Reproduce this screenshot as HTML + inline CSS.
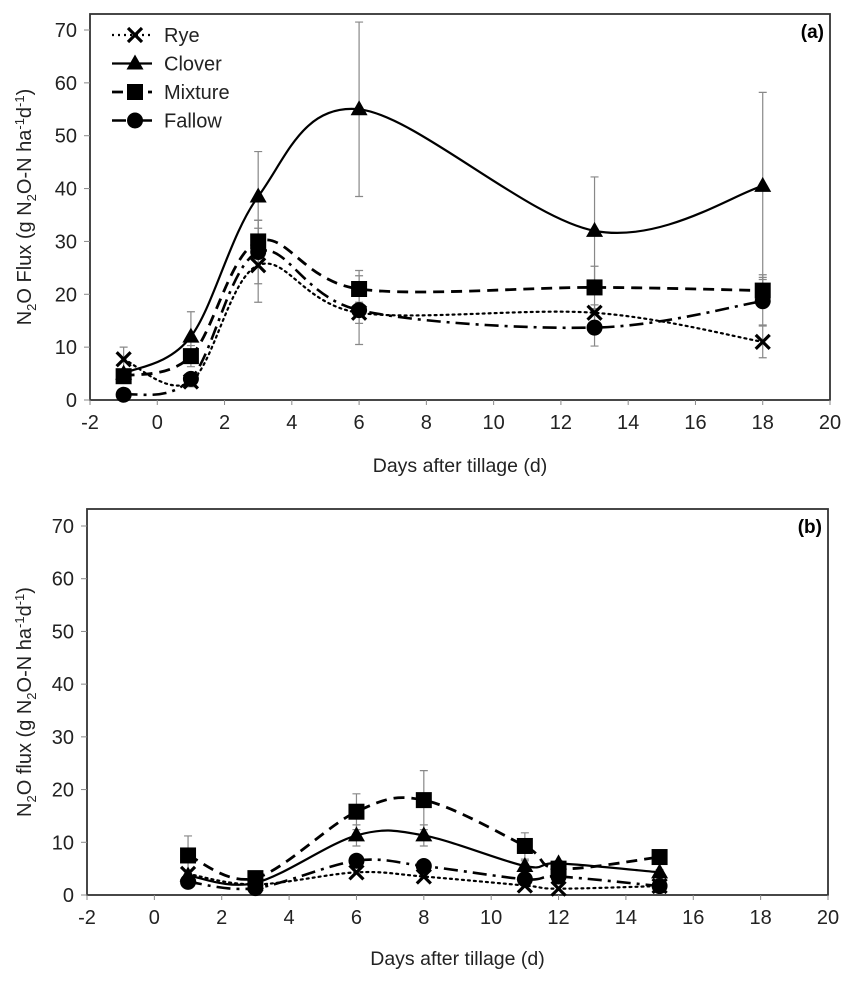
<!DOCTYPE html>
<html><head><meta charset="utf-8"><style>
html,body{margin:0;padding:0;background:#fff;}
svg{display:block;font-family:"Liberation Sans",Arial,sans-serif;}
</style></head><body>
<svg id="chart" width="855" height="983" viewBox="0 0 855 983"></svg>
<script>
const seriesNames = ["Rye","Clover","Mixture","Fallow"];
const daysA = [-1,1,3,6,13,18];
const ryeA = [7.7,3.5,25.5,16.5,16.5,11];
const cloverA = [5,12,38.5,55,32,40.5];
const mixtureA = [4.5,8.3,30,21,21.3,20.7];
const fallowA = [1,4,28,17,13.7,18.7];
const ryeErrA = [2.3,1,7,2,1.5,3];
const cloverErrA = [0,4.7,8.5,16.5,10.2,17.7];
const mixtureErrA = [1,2,4,3.5,4,3];
const fallowErrA = [0,1,6,6.5,3.5,4.5];
const daysB = [1,3,6,8,11,12,15];
const ryeB = [4,2,4.3,3.5,1.8,1.2,1.7];
const cloverB = [3.7,2.3,11.3,11.3,5.5,6,4.3];
const mixtureB = [7.5,3.2,15.8,18,9.3,5,7.2];
const fallowB = [2.5,1.3,6.5,5.5,3,3.5,1.7];
const mixtureErrB = [3.7,0.5,3.4,5.6,2.5,0.5,0.5];
const cloverErrB = [1,0.5,2,2,1,0.5,0.5];
const xTicks = [-2,0,2,4,6,8,10,12,14,16,18,20];
const yTicks = [0,10,20,30,40,50,60,70];

const NS="http://www.w3.org/2000/svg";
const svg=document.getElementById('chart');
function el(tag,attrs,parent){const e=document.createElementNS(NS,tag);for(const k in attrs)e.setAttribute(k,attrs[k]);(parent||svg).appendChild(e);return e;}
const styles={Rye:"2,4",Clover:"",Mixture:"11,7",Fallow:"14,6,3,6"};
const widths={Rye:2.2,Clover:2.2,Mixture:2.8,Fallow:2.6};

function smoothPath(pts){
  let d=`M${pts[0][0]},${pts[0][1]}`;
  for(let i=0;i<pts.length-1;i++){
    const p0=pts[i-1]||pts[i],p1=pts[i],p2=pts[i+1],p3=pts[i+2]||p2;
    const t=1/6;
    const c1=[p1[0]+(p2[0]-p0[0])*t,p1[1]+(p2[1]-p0[1])*t];
    const c2=[p2[0]-(p3[0]-p1[0])*t,p2[1]-(p3[1]-p1[1])*t];
    d+=` C${c1[0]},${c1[1]} ${c2[0]},${c2[1]} ${p2[0]},${p2[1]}`;
  }
  return d;
}
function marker(g,name,x,y){
  let m;
  if(name==="Rye"){m=el('path',{d:`M${x-7},${y-7}L${x+7},${y+7}M${x-7},${y+7}L${x+7},${y-7}`,stroke:'#000','stroke-width':3.2,fill:'none'},g);}
  else if(name==="Clover"){m=el('polygon',{points:`${x},${y-9} ${x+8.5},${y+6} ${x-8.5},${y+6}`,fill:'#000'},g);}
  else if(name==="Mixture"){m=el('rect',{x:x-8,y:y-8,width:16,height:16,fill:'#000'},g);}
  else {m=el('circle',{cx:x,cy:y,r:8,fill:'#000'},g);}
  
  
}

function panel(cfg){
  const {left,right,top,y0,y70,id,label,days,data,errs,ytitle,xtitleY}=cfg;
  const X=v=>left+(v+2)*(right-left)/22;
  const Y=v=>y0-v*(y0-y70)/70;
  const g=el('g',{});
  
  
  const frame=el('rect',{x:left,y:top,width:right-left,height:y0-top,fill:'none',stroke:'#333','stroke-width':1.8},g);
  
  
  xTicks.forEach(t=>{
    el('line',{x1:X(t),x2:X(t),y1:y0,y2:y0+5,stroke:'#888','stroke-width':1},g);
    const tx=el('text',{x:X(t),y:y0+29,'text-anchor':'middle','font-size':20,fill:'#222'},g);
    tx.textContent=t;
    
    
  });
  yTicks.forEach(t=>{
    el('line',{x1:left-6,x2:left,y1:Y(t),y2:Y(t),stroke:'#888','stroke-width':1},g);
    const ty=el('text',{x:left-13,y:Y(t)+7,'text-anchor':'end','font-size':20,fill:'#222'},g);
    ty.textContent=t;
    
    
  });
  const xt=el('text',{x:(left+right)/2,y:xtitleY,'text-anchor':'middle','font-size':19.5,fill:'#222'},g);
  xt.textContent="Days after tillage (d)";
  
  
  const yt=el('text',{transform:`translate(31,${(top+y0)/2}) rotate(-90)`,'text-anchor':'middle','font-size':20,fill:'#222'},g);
  yt.innerHTML=`N<tspan font-size="13" dy="5">2</tspan><tspan dy="-5">O ${ytitle} (g N</tspan><tspan font-size="13" dy="5">2</tspan><tspan dy="-5">O-N ha</tspan><tspan font-size="13" dy="-7">-1</tspan><tspan dy="7">d</tspan><tspan font-size="13" dy="-7">-1</tspan><tspan dy="7">)</tspan>`;
  
  
  const pl=el('text',{x:right-6,y:top+24,'text-anchor':'end','font-size':19,'font-weight':'bold',fill:'#000'},g);
  pl.textContent=label;
  
  
  seriesNames.forEach((n,si)=>{
    const e=errs[si]; if(!e) return;
    data[si].forEach((v,i)=>{
      if(!e[i]) return;
      const x=X(days[i]),ya=Y(v+e[i]),yb=Y(Math.max(0,v-e[i]));
      const eb=el('path',{d:`M${x},${ya}L${x},${yb}M${x-4},${ya}L${x+4},${ya}M${x-4},${yb}L${x+4},${yb}`,stroke:'#888','stroke-width':1.2,fill:'none'},g);
      
      
    });
  });
  seriesNames.forEach((n,si)=>{
    const pts=days.map((d,i)=>[X(d),Y(data[si][i])]);
    const p=el('path',{d:smoothPath(pts),fill:'none',stroke:'#000','stroke-width':widths[n],'stroke-dasharray':styles[n],'stroke-linecap':n==="Rye"?'round':'butt'},g);
    
    
  });
  seriesNames.forEach((n,si)=>{
    days.forEach((d,i)=>marker(g,n,X(d),Y(data[si][i])));
  });
}
panel({left:90,right:830,top:14,y0:400,y70:30,id:'a',label:'(a)',days:daysA,
  data:[ryeA,cloverA,mixtureA,fallowA],errs:[ryeErrA,cloverErrA,mixtureErrA,fallowErrA],ytitle:'Flux',xtitleY:472});
panel({left:87,right:828,top:509,y0:895,y70:526,id:'b',label:'(b)',days:daysB,
  data:[ryeB,cloverB,mixtureB,fallowB],errs:[null,cloverErrB,mixtureErrB,null],ytitle:'flux',xtitleY:965});

const lg=el('g',{});


seriesNames.forEach((n,i)=>{
  const y=35+i*28.5;
  const e=el('g',{},lg);
  
  
  el('line',{x1:112,x2:152,y1:y,y2:y,stroke:'#000','stroke-width':widths[n],'stroke-dasharray':styles[n]},e);
  marker(e,n,135,y);
  const t=el('text',{x:164,y:y+7,'font-size':20,fill:'#222'},e);
  t.textContent=n;
});
</script>
</body></html>
